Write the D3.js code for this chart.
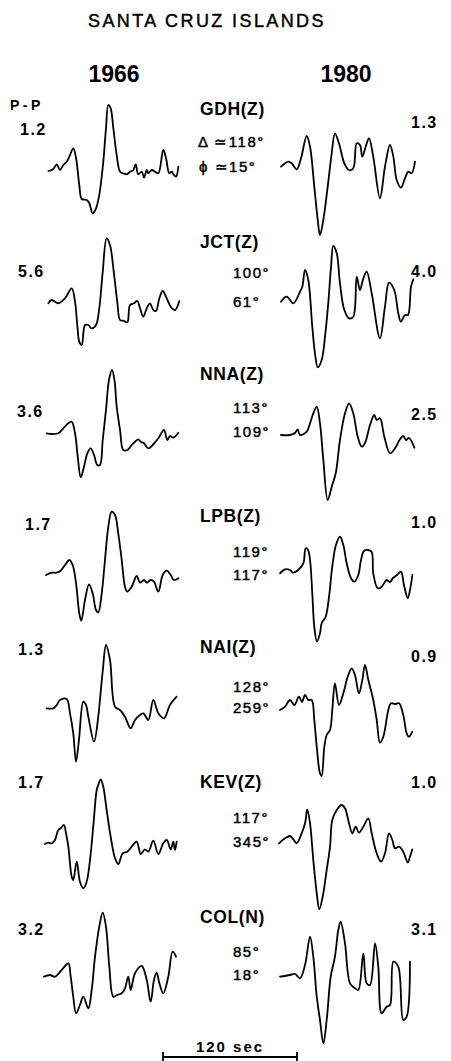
<!DOCTYPE html>
<html>
<head>
<meta charset="utf-8">
<script src="https://cdn.jsdelivr.net/npm/d3@7"></script>
<style>
  html, body { margin: 0; padding: 0; background: #fff; }
  svg { display: block; }
  text { font-family: "Liberation Sans", Arial, Helvetica, sans-serif; fill: #000; }
  text.medium { stroke: #000; stroke-width: 0.45px; }
</style>
</head>
<body>
<svg id="chart" width="451" height="1061"></svg>
<script>
// Santa Cruz Islands: long-period P waveforms, 1966 event vs 1980 event.
// Each trace is [time (s), relative amplitude] samples.

const title = "SANTA CRUZ ISLANDS";
const years = ["1966", "1980"];
const stations = ["GDH(Z)", "JCT(Z)", "NNA(Z)", "LPB(Z)", "NAI(Z)", "KEV(Z)", "COL(N)"];
const distances = ["118°", "100°", "113°", "119°", "128°", "117°", "85°"];
const azimuths = ["15°", "61°", "109°", "117°", "259°", "345°", "18°"];
const pp1966 = ["1.2", "5.6", "3.6", "1.7", "1.3", "1.7", "3.2"];
const pp1980 = ["1.3", "4.0", "2.5", "1.0", "0.9", "1.0", "3.1"];
const scaleBarSeconds = 120;

const trace1966 = [
  // GDH
  [[3.9,-2],[8.3,0],[11.4,4.7],[14.3,-1],[17.3,4],[20.3,7.3],[22.7,12.3],[26.2,20.7],[28.7,11],[31.6,-16],[33.8,-30],[38.2,-31],[40.6,-34.3],[43.6,-44.3],[46.6,-39.3],[49.5,-26],[53.1,7.3],[55.5,40.7],[57.6,64],[59.7,60.7],[62.1,40.7],[65.1,14],[68.1,-2.7],[71,-4.3],[74.1,-5.3],[77,-2.7],[80,-1],[82.1,4.7],[84.4,-5.3],[87.5,-2.7],[89.6,-8.7],[92,-1],[93.4,-4.3],[96.4,-1],[99.4,-2.7],[102.4,-4.3],[106.8,19],[109.3,10.7],[112.2,-4.3],[114.4,-2.7],[115.8,-5.3],[118.2,-7.7],[120.3,2.3]],
  // JCT
  [[3.9,0.2],[6.9,3.5],[12.8,0.2],[18.8,5.2],[24.8,15.2],[27.8,1.8],[29.8,-21.5],[31.6,-38.2],[33.8,-41.5],[36.7,-21.5],[39.7,-21.5],[42.7,-24.8],[46.6,-21.5],[49.5,-4.8],[52.6,31.8],[56.1,65.2],[59.1,58.5],[62.1,35.2],[65.6,1.8],[68.1,-16.5],[71,-17.2],[74.6,-18.8],[77,-1.5],[80.6,0.2],[83.6,2.5],[86,-4.8],[88.9,-13.2],[92,-4.8],[94.9,0.2],[97.9,-6.5],[100.3,-7.5],[103.3,5.2],[106.3,12.5],[109.9,5.2],[113.5,-3.2],[117.3,-6.5],[121.2,2.5]],
  // NNA
  [[2.4,4.7],[6.9,4],[12.8,4.7],[17.3,9.7],[21.8,14.7],[24.8,16.3],[27.8,4.7],[30.2,-18.7],[32.9,-39.3],[35.8,-28.7],[38.8,-15.3],[41.8,-10.3],[44.8,-17],[47.7,-27],[50.1,-27],[52.6,-2],[55.5,28],[58.2,58],[60.9,68],[63.1,58],[65.1,31.3],[68.1,8],[71,-12],[74.6,-12],[78.5,-7],[81.5,-3.7],[84.4,-1.3],[86.6,-3.7],[89.6,-5.3],[93.4,-10.3],[97.3,-7],[102.4,-0.3],[107.5,8],[110.4,-2],[112.8,2],[115.8,0.3],[120.3,5.3]],
  // LPB
  [[1.8,-2.5],[6.9,-0.2],[11.4,-0.2],[15,1.8],[18.8,7.5],[22.7,12.5],[25.7,7.5],[28.7,-10.8],[31.6,-40.8],[33.4,-48.2],[36.7,-27.5],[40.3,-11.8],[43.6,-20.8],[46.6,-37.5],[48.6,-39.8],[51.7,-20.8],[54.6,12.5],[57.6,45.8],[60.6,60.8],[63.6,57.5],[66.5,39.2],[69.6,12.5],[72.5,-14.2],[74.6,-19.2],[78.5,-14.2],[83,-3.5],[86,-10.2],[89.6,-7.5],[92.2,-10.2],[95.5,-7.5],[98.5,-9.2],[102.4,-19.2],[106.3,-2.5],[109.9,1.8],[113.5,-2.5],[116.4,-7.5],[120.3,-5.8]],
  // NAI
  [[2.4,-1.3],[8.3,-1.3],[11.4,2],[14.3,7],[20.3,8],[23.3,-6.3],[26.2,-26.3],[28.7,-54.7],[31.3,-33],[35.2,5.3],[37.6,2],[39.7,-9.7],[44.8,-34.7],[48.6,-9.7],[50.1,7],[52.7,37],[55.5,62],[59.1,47],[63.6,0.3],[68.1,-3],[72.5,-9.7],[77.6,-21.3],[81.5,-13],[86,-8],[88.9,-6.3],[93.4,-13],[97.9,7],[102.4,-6.3],[107.5,-11.3],[112.8,2],[118.8,10.3]],
  // KEV
  [[0.9,-2.5],[3.9,-1.2],[6.9,-1.8],[9.8,1.5],[12.8,11.5],[15,13.2],[17.9,16.5],[19.7,8.2],[21.8,-5.2],[24.8,-35.2],[26.2,-38.5],[29.3,-20.2],[32.2,-40.2],[35.2,-46.8],[38.2,-40.2],[41.2,-18.5],[44.1,14.8],[47.2,51.5],[48.6,56.5],[50.8,62.2],[53.1,54.8],[56.1,31.5],[59.7,4.8],[63.6,-16.8],[66.5,-22.5],[70.5,-11.8],[74.6,-10.2],[78.5,-5.2],[83,-0.2],[86.6,-12.5],[90.4,-7.8],[93.4,-10.2],[97.9,0.8],[102.4,-12.5],[106.8,-1.8],[109.9,1.5],[113.5,-7.8],[115.8,-0.2],[117.3,-8.5],[118.8,-0.2]],
  // COL
  [[0,-0.7],[5.4,1],[9.8,-0.7],[15.8,6],[21.8,12.7],[23.9,-0.7],[26.2,-20.7],[28.7,-37.3],[32.2,-29],[35.2,-20.7],[39.7,-32.3],[42.7,-14],[45.7,19.3],[49.5,49.3],[52.6,63.3],[55.5,49.3],[58.5,9.3],[62.1,-20.7],[65.6,-19],[69.6,-17.3],[72.5,-12.3],[75.5,-0.7],[77.6,-14],[81.5,2.7],[87.5,10],[92,-4],[95.5,-25.7],[98.5,-4],[100.9,3.3],[103.3,-7.3],[106.8,-17.3],[111.3,-0.7],[115.2,24.3],[118.2,19.3]]
];

const trace1980 = [
  // GDH
  [[2.7,2.3],[9.2,7.3],[12.3,5.7],[16.7,-0.3],[20.6,10.7],[25.7,33],[28.7,22.3],[32.5,-17.7],[35.6,-51],[37.6,-66],[40.6,-51],[44.5,-17.7],[48.1,15.7],[51,35.7],[54.6,25.7],[59.4,5.7],[63.6,-1],[67.4,0.7],[70.5,25.7],[73.4,24],[75.5,12.3],[78.5,22.3],[81.5,30.7],[85.3,12.3],[91.3,-29.3],[95.8,2.3],[100.3,24],[103.3,12.3],[106.3,-11],[110.1,-18.7],[113.7,-9.3],[116.7,-2.7],[119.7,-4.3],[122.7,7.3]],
  // JCT
  [[2.7,1.8],[7.8,6.8],[13.7,0.2],[19.7,11.8],[21.8,16.8],[24.2,33.5],[27.1,23.5],[30.7,-23.2],[33.1,-49.8],[35.6,-63.8],[39.1,-56.5],[42.1,-33.2],[45,0.2],[47.5,36.8],[49.5,57.5],[52.6,50.2],[55.5,20.2],[59.4,-6.5],[63.6,-14.8],[67.4,-13.2],[70.5,26.8],[73.4,13.5],[76.4,25.2],[79.4,31.8],[83.9,10.2],[91.3,-34.8],[95.8,-3.2],[99.4,20.8],[104.1,13.5],[107.7,-9.8],[110.1,-18.2],[113.7,-11.5],[116.4,-11.5],[119.1,16.8],[121.2,24.2]],
  // NNA
  [[2.7,3],[10.7,3],[15.2,5],[17.6,8.7],[19.7,3],[25.7,6.3],[28.7,14.7],[31.6,24.7],[34.7,31.3],[37.6,14.7],[40.6,-22],[44.5,-62],[48.1,-48.7],[51.7,-35.3],[55.5,-2],[60,24.7],[63.6,34.7],[67.4,24.7],[71.4,1.3],[75,-8.7],[77.9,-5],[82.4,13],[86.2,23],[88.4,18],[91.3,19.7],[95.2,1.3],[100.3,-15.3],[104.8,-10.3],[109.2,-1.3],[112.2,2],[114.6,-2],[117.3,0],[122.1,-9.7]],
  // LPB
  [[1.8,-0.8],[6.3,3.2],[10.7,2.5],[13.7,-0.2],[18.1,2.5],[22.7,9.2],[24.8,24.2],[26.9,22.5],[28.7,12.5],[30.7,-20.8],[32.5,-54.2],[34.9,-69.2],[37.6,-60.8],[39.1,-50.8],[42.7,-44.2],[45.7,-24.2],[48.6,5.8],[51.9,27.5],[55.5,35.8],[58.5,27.5],[61.5,9.2],[65.4,-5.8],[68.3,-9.2],[71.9,-2.5],[74.3,12.5],[77,21.5],[80.6,22.5],[83.9,20.5],[85.3,-0.8],[89.3,-15.8],[92.9,-14.2],[97.3,-7.5],[100.3,-9.5],[103,-5.5],[106.6,-2.5],[110.1,0.8],[112.8,-12.5],[116.2,-25.8],[118.2,-17.5],[120.3,-2.5]],
  // NAI
  [[1.8,-3],[6.3,0.3],[10.7,7],[14.6,2],[18.8,10.3],[21.5,5],[24.2,12],[27.1,7],[30.2,7],[32.5,-13],[34.7,-39.7],[37.6,-66.3],[39.1,-69],[41.5,-39.7],[43.6,-28],[46.6,-23],[48.6,-3],[51,23.7],[54.6,2],[58.5,13.7],[62.4,30.3],[66,38.7],[68.9,32],[72.5,13.7],[75.5,27],[77.9,42],[80.9,27],[85.3,7],[88.4,-13],[91.3,-35.7],[94.3,-29.7],[98.8,-3],[101.2,3.7],[104.8,3],[108.4,3.7],[112.2,-8],[115.2,-26.3],[117.3,-29.7],[120.3,-24.7]],
  // KEV
  [[0.9,-1.8],[6.3,3.2],[10.7,5.5],[13.7,2.2],[16.7,-1.8],[21.2,8.2],[24.2,18.2],[26.2,32.2],[28.7,18.2],[31.6,-18.5],[34.7,-51.8],[37,-67.8],[40,-55.2],[43.6,-28.5],[46.6,-5.2],[48.6,21.5],[52.6,31.5],[57,36.5],[60,33.2],[63.6,18.2],[66.5,8.2],[69.6,14.8],[72.5,8.8],[76.4,14.8],[80.9,23.2],[83.9,8.2],[88.4,-11.8],[92.3,-20.2],[95.8,-11.8],[99.4,8.2],[102.4,1.5],[104.8,-6.8],[108.4,-5.2],[112.2,-10.2],[116.2,-21.2],[118.2,-15.2],[120.3,-7.8]],
  // COL
  [[1.8,-0.7],[10.7,1],[15.2,2],[19.7,-2.3],[24.2,11],[28.7,39.3],[31.6,19.3],[34.7,-20.7],[37.6,-44],[40.6,-67.3],[43.6,-44],[47.2,-0.7],[51,19.3],[54,46],[56.1,54.3],[60,32.7],[64.5,-7.3],[69,-12.3],[71.9,-14],[76.4,22.7],[79.4,-7.3],[82.4,-9],[86.9,32.7],[89.8,9.3],[92.8,-37.3],[97.3,-30.7],[100.3,-29],[103.3,14.3],[107.7,9.3],[112.2,-44],[115.2,-40.7],[118.2,14.3]]
];

// ---- layout ----
const svg = d3.select("#chart");
const pxPerSec = 134 / 120;
const traceSpan = 125; // seconds shown per trace panel

const xLeft = d3.scaleLinear().domain([0, traceSpan]).range([44, 44 + traceSpan * pxPerSec]);
const xRight = d3.scaleLinear().domain([0, traceSpan]).range([278, 278 + traceSpan * pxPerSec]);
const row = d3.scalePoint().domain(stations).range([169, 976]);
const amp = d3.scaleLinear().domain([-70, 70]).range([70, -70]);

// per-row vertical offsets of the annotations (px, relative to the trace baseline)
const stationDy = [-54, -55.5, -58, -50.5, -54, -53.5, -53];
const ppLeftDy = [-34, -26.5, -21, -42.5, -52, -53.5, -41];
const ppLeftX = [20, 18, 17, 25, 18, 18, 18];
const ppRightDy = [-41, -26.5, -18, -44.5, -45, -53.5, -41];
const distDy = [-22, -25.5, -25, -15.5, -15, -18.5, -19];
const aziDy = [2.7, 3.5, -1, 7.5, 6, 5.5, 4];

// title
svg.append("text").attr("class", "medium")
  .attr("x", 88).attr("y", 27)
  .style("font-size", "18px").style("letter-spacing", "2.4px")
  .text(title);

// year headings
svg.append("text").attr("x", 114).attr("y", 81.5).attr("text-anchor", "middle")
  .style("font-size", "23px").style("font-weight", "bold").text(years[0]);
svg.append("text").attr("x", 346).attr("y", 81.5).attr("text-anchor", "middle")
  .style("font-size", "23px").style("font-weight", "bold").text(years[1]);

// P-P header
svg.append("text").attr("x", 10).attr("y", 110)
  .style("font-size", "14px").style("font-weight", "bold").style("letter-spacing", "3.5px")
  .text("P-P");

const line = d3.line().curve(d3.curveCatmullRom.alpha(0.5));

function drawTraces(data, xs) {
  svg.append("g").selectAll("path")
    .data(data)
    .join("path")
    .attr("fill", "none")
    .attr("stroke", "#000")
    .attr("stroke-width", 1.8)
    .attr("stroke-linejoin", "round")
    .attr("stroke-linecap", "round")
    .attr("d", (pts, i) => line(pts.map(([t, a]) => [xs(t), row(stations[i]) + amp(a)])));
}
drawTraces(trace1966, xLeft);
drawTraces(trace1980, xRight);

const labels = svg.append("g");
stations.forEach((s, i) => {
  const y0 = row(s);
  labels.append("text").attr("x", 200).attr("y", y0 + stationDy[i])
    .style("font-size", "17.5px").style("font-weight", "bold").style("letter-spacing", "0.6px")
    .text(s);
  labels.append("text").attr("x", ppLeftX[i]).attr("y", y0 + ppLeftDy[i])
    .style("font-size", "16px").style("font-weight", "bold").style("letter-spacing", "1.5px")
    .text(pp1966[i]);
  labels.append("text").attr("x", 411).attr("y", y0 + ppRightDy[i])
    .style("font-size", "16px").style("font-weight", "bold").style("letter-spacing", "1.5px")
    .text(pp1980[i]);
  const d = labels.append("text").attr("class", "medium").attr("y", y0 + distDy[i])
    .style("font-size", "15px").style("letter-spacing", "1.5px");
  const a = labels.append("text").attr("class", "medium").attr("y", y0 + aziDy[i])
    .style("font-size", "15px").style("letter-spacing", "1.5px");
  if (i === 0) {
    d.attr("x", 198).text("Δ ≃" + distances[i]);
    a.attr("x", 199).text("ϕ ≃" + azimuths[i]);
  } else {
    d.attr("x", 233).text(distances[i]);
    a.attr("x", 233).text(azimuths[i]);
  }
});

// time scale bar
const bar = d3.scaleLinear().domain([0, scaleBarSeconds]).range([163, 163 + scaleBarSeconds * pxPerSec]);
const barY = 1057;
const gBar = svg.append("g").attr("stroke", "#000").attr("stroke-width", 1.8);
gBar.append("line").attr("x1", bar(0)).attr("x2", bar(scaleBarSeconds)).attr("y1", barY).attr("y2", barY);
gBar.selectAll("line.tick").data([0, scaleBarSeconds]).join("line").attr("class", "tick")
  .attr("x1", d => bar(d)).attr("x2", d => bar(d)).attr("y1", barY - 5).attr("y2", barY + 5);
svg.append("text").attr("x", bar(scaleBarSeconds / 2)).attr("y", 1052).attr("text-anchor", "middle")
  .style("font-size", "15px").style("font-weight", "bold").style("letter-spacing", "2px")
  .text(scaleBarSeconds + " sec");
</script>
</body>
</html>
